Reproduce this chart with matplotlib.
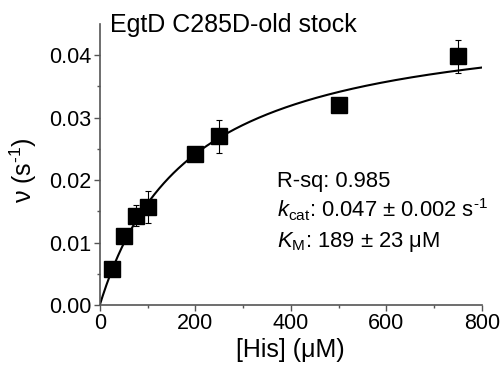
import numpy as np
import matplotlib
matplotlib.use("Agg")
import matplotlib.pyplot as plt

plt.rcParams['font.family'] = ['Liberation Sans', 'DejaVu Sans']
plt.rcParams['mathtext.fontset'] = 'custom'
plt.rcParams['mathtext.rm'] = 'Liberation Sans'
plt.rcParams['mathtext.it'] = 'Liberation Sans:italic'
plt.rcParams['mathtext.bf'] = 'Liberation Sans:bold'

# Substrate concentration (µM) and initial rates (s^-1)
his_conc = [25, 50, 75, 100, 200, 250, 500, 750]
rate = [0.0057, 0.0110, 0.0143, 0.0157, 0.0242, 0.0270, 0.0320, 0.0398]
rate_err = [0.0, 0.0, 0.0017, 0.0025, 0.0, 0.0026, 0.0, 0.0026]

# Michaelis-Menten fit parameters
kcat = 0.047
km = 189.0

x_ticks = [0, 200, 400, 600, 800]
y_ticks = [0.00, 0.01, 0.02, 0.03, 0.04]

fig = plt.figure(figsize=(5.04, 3.68), dpi=100)
ax = fig.add_axes([0.198, 0.171, 0.758, 0.764])

s = np.linspace(0, 800, 400)
ax.plot(s, kcat * s / (km + s), color='black', lw=1.5, zorder=2)

ax.errorbar(his_conc, rate, yerr=rate_err, fmt='none', ecolor='black',
            elinewidth=0.8, capsize=2.2, capthick=0.8, zorder=3)
ax.plot(his_conc, rate, 's', color='black', markersize=12, zorder=4)

ax.set_xlim(0, 800)
ax.set_ylim(0, 0.045)
ax.set_xticks(x_ticks)
ax.set_yticks(y_ticks)
ax.set_yticklabels([f"{v:.2f}" for v in y_ticks])
ax.set_xticks(np.arange(100, 800, 200), minor=True)
ax.set_yticks(np.arange(0.005, 0.045, 0.01), minor=True)

for side in ('top', 'right'):
    ax.spines[side].set_visible(False)
for side in ('left', 'bottom'):
    ax.spines[side].set_color('#555555')
    ax.spines[side].set_linewidth(1.2)

ax.tick_params(axis='both', which='major', direction='out', length=4,
               width=1.0, color='#555555', labelsize=15.5, pad=2)
ax.tick_params(axis='both', which='minor', direction='out', length=2.5,
               width=1.0, color='#555555')

fig.text(0.577, 0.030, '[His] (\u03bcM)', fontsize=18, ha='center',
         va='baseline')
fig.text(0.046, 0.538, '\u03bd (s$^{\\text{-1}}$)', fontsize=18,
         rotation=90, ha='center', va='center')

fig.text(0.218, 0.913, 'EgtD C285D-old stock', fontsize=18,
         ha='left', va='baseline')

fig.text(0.550, 0.492, 'R-sq: 0.985', fontsize=15.8, ha='left', va='baseline')
fig.text(0.550, 0.408,
         '$k_{\\text{cat}}$: 0.047 \u00b1 0.002 s$^{\\text{-1}}$',
         fontsize=15.8, ha='left', va='baseline')
fig.text(0.550, 0.329, '$K_{\\text{M}}$: 189 \u00b1 23 \u03bcM',
         fontsize=15.8, ha='left', va='baseline')

fig.savefig('out.png', dpi=100)
